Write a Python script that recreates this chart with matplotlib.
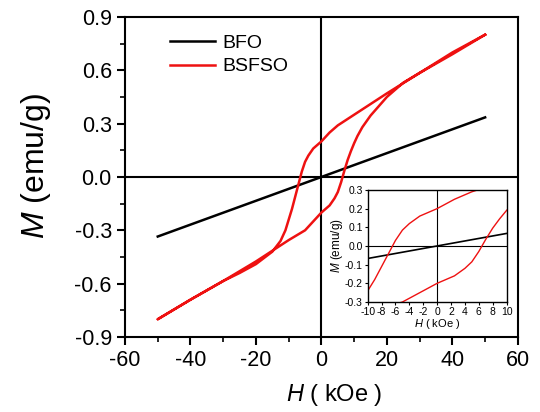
import numpy as np
import matplotlib.pyplot as plt
from matplotlib.ticker import MultipleLocator

plt.rcParams['font.family'] = ['Liberation Sans', 'DejaVu Sans']
plt.rcParams['axes.unicode_minus'] = False
plt.rcParams['mathtext.fontset'] = 'custom'
plt.rcParams['mathtext.it'] = 'Liberation Sans:italic'
plt.rcParams['mathtext.rm'] = 'Liberation Sans'

# BFO: straight line
bfo_h = [-50, 50]
bfo_m = [-0.335, 0.335]

# BSFSO loop, descending branch (from +50 to -50 kOe)
down_h = [50, 40, 30, 20, 15, 10, 5, 2.5, 0, -2.5, -4, -5, -6, -7, -8, -9,
          -10, -11, -12.5, -15, -20, -25, -30, -40, -50]
down_m = [0.80, 0.70, 0.585, 0.47, 0.41, 0.35, 0.29, 0.25, 0.20, 0.16, 0.12,
          0.085, 0.03, -0.04, -0.11, -0.18, -0.24, -0.30, -0.36, -0.42, -0.49,
          -0.54, -0.585, -0.69, -0.80]

# ascending branch (from -50 to +50 kOe)
up_h = [-50, -40, -30, -20, -15, -10, -5, -2.5, 0, 2.5, 4, 5, 6, 7, 8, 9,
        10, 11, 12.5, 15, 20, 25, 30, 40, 50]
up_m = [-0.80, -0.69, -0.585, -0.475, -0.415, -0.355, -0.30, -0.25, -0.20,
        -0.16, -0.12, -0.085, -0.03, 0.035, 0.095, 0.145, 0.19, 0.23, 0.28,
        0.345, 0.45, 0.53, 0.585, 0.69, 0.80]

fig = plt.figure(figsize=(5.4, 4.12), dpi=100)
ax = fig.add_axes([0.2315, 0.182, 0.7275, 0.777])

ax.axhline(0, color='black', lw=1.5, zorder=1)
ax.axvline(0, color='black', lw=1.5, zorder=1)
ax.plot(bfo_h, bfo_m, color='black', lw=1.8, label='BFO')
ax.plot(down_h + up_h, down_m + up_m, color='#ee1111', lw=1.8, label='BSFSO')

ax.set_xlim(-60, 60)
ax.set_ylim(-0.9, 0.9)
ax.xaxis.set_major_locator(MultipleLocator(20))
ax.xaxis.set_minor_locator(MultipleLocator(10))
ax.yaxis.set_major_locator(MultipleLocator(0.3))
ax.yaxis.set_minor_locator(MultipleLocator(0.15))
ax.yaxis.set_major_formatter(plt.FormatStrFormatter('%.1f'))
ax.tick_params(which='major', direction='out', length=6, width=1.5, labelsize=15.5)
ax.tick_params(which='minor', direction='out', length=3.5, width=1.2)
for s in ax.spines.values():
    s.set_linewidth(1.5)

ax.set_xlabel(r'$H$' + ' ( kOe )', fontsize=17, va='center')
ax.xaxis.set_label_coords(0.532, -0.18)
ax.set_ylabel(r'$M$' + ' (emu/g)', fontsize=23, va='center')
ax.yaxis.set_label_coords(-0.226, 0.534)

ax.legend(loc='upper left', bbox_to_anchor=(0.07, 1.0), frameon=False,
          fontsize=14, handlelength=2.3, handletextpad=0.4, labelspacing=0.3)

# inset
ins = fig.add_axes([0.681, 0.267, 0.257, 0.272])
ins.axhline(0, color='black', lw=0.8, zorder=1)
ins.axvline(0, color='black', lw=0.8, zorder=1)
ins.plot(bfo_h, bfo_m, color='black', lw=1.2)
ins.plot(down_h + up_h, down_m + up_m, color='#ee1111', lw=1.0)
ins.set_xlim(-10, 10)
ins.set_ylim(-0.3, 0.3)
ins.xaxis.set_major_locator(MultipleLocator(2))
ins.yaxis.set_major_locator(MultipleLocator(0.1))
ins.yaxis.set_major_formatter(plt.FormatStrFormatter('%.1f'))
ins.tick_params(direction='out', length=2.5, width=0.8, labelsize=7.5, pad=1)
for s in ins.spines.values():
    s.set_linewidth(1.0)
ins.set_xlabel(r'$H$' + ' ( kOe )', fontsize=8, labelpad=0)
ins.set_ylabel(r'$M$' + ' (emu/g)', fontsize=8.5, labelpad=0)

fig.savefig('out.png', dpi=100)
